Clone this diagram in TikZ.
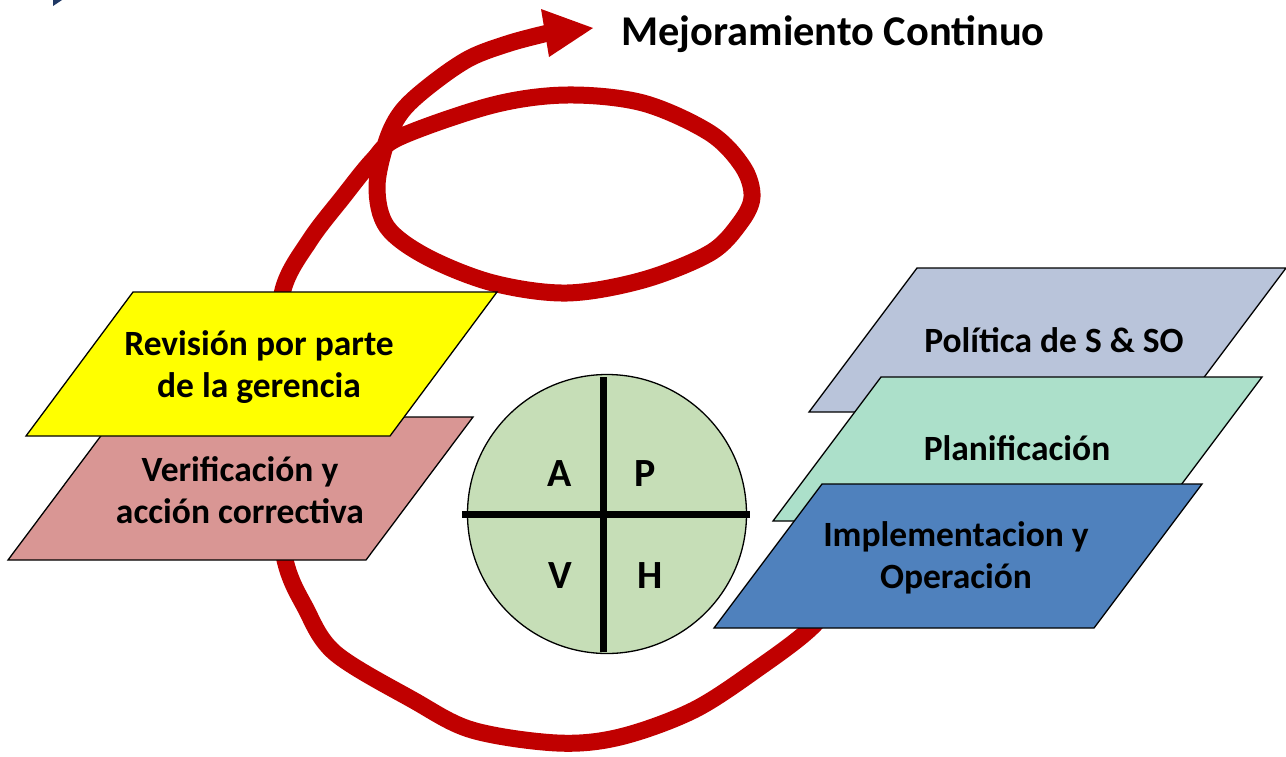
\documentclass[tikz,border=0pt]{standalone}
\usepackage{fontspec}
\setmainfont{Carlito}
\definecolor{redc}{HTML}{C00000}
\definecolor{yellowc}{HTML}{FFFF00}
\definecolor{pinkc}{HTML}{D99694}
\definecolor{grayc}{HTML}{B9C4DA}
\definecolor{greenc}{HTML}{ACE0CA}
\definecolor{bluec}{HTML}{4F81BD}
\definecolor{circc}{HTML}{C6DEB7}
\definecolor{navyc}{HTML}{1F3864}
\begin{document}
\begin{tikzpicture}[x=1pt,y=-1pt,
  box/.style={draw=black, line width=1.3pt, line join=miter},
  lbl/.style={font=\fontsize{35.5}{42}\selectfont\bfseries, align=center, inner sep=0pt},
  letter/.style={font=\fontsize{40}{48}\selectfont\bfseries, inner sep=0pt, anchor=base},
  redloop/.style={draw=redc, line width=17pt, line cap=butt, line join=round},
  crossline/.style={draw=black, line width=7pt}]
\useasboundingbox (0,0) rectangle (1286,756);
\fill[navyc] (53,0) -- (62,0) -- (53,6) -- cycle;
% red continuous-improvement path (behind the boxes)
\coordinate (rs) at (845,585);
\coordinate (re) at (548,33);
\coordinate (tip) at (593,28);
\draw[redloop] plot[smooth, tension=0.55] coordinates {(rs) (812,627) (760,667) (694,710) (620,737) (557,743) (472,730) (413,700) (335,653) (305,607) (285,560) (272,470) (276,370) (283,290) (310,240) (343,197) (373,160) (400,137) (493,105) (567,95) (643,103) (710,133) (743,167) (752,197) (740,223) (710,253) (643,280) (567,293) (493,283) (427,257) (387,227) (377,187) (387,140) (403,110) (433,83) (470,58) (510,43) (re)};
\fill[redc] (541,9) -- (tip) -- (549,57) -- cycle;
\node[font=\fontsize{42.4}{50}\selectfont\bfseries, inner sep=0pt, anchor=base] (mc) at (833,45) {Mejoramiento Continuo};
% left boxes
\draw[box, fill=pinkc] (115,417) -- (473,417) -- (366,560) -- (8,560) -- cycle;
\node[lbl] (ver) at (240,490) {Verificación y\\acción correctiva};
\draw[box, fill=yellowc] (133,292) -- (497,292) -- (390,436) -- (26,436) -- cycle;
\node[lbl] (rev) at (259,367) {Revisión por parte\\de la gerencia};
% right boxes
\draw[box, fill=grayc] (917,268) -- (1286,268) -- (1178,412) -- (809,412) -- cycle;
\node[lbl, anchor=base] (pol) at (1054,352) {Política de S \& SO};
\draw[box, fill=greenc] (881,377) -- (1262,377) -- (1154,521) -- (773,521) -- cycle;
\node[lbl, anchor=base] (pla) at (1017,460) {Planificación};
\draw[box, fill=bluec] (822,484) -- (1202,484) -- (1094,628) -- (714,628) -- cycle;
\node[lbl] (imp) at (956,558) {Implementacion y\\Operación};
% PDCA circle
\node[circle, draw=black, line width=1.3pt, fill=circc, minimum size=279pt, inner sep=0pt] (pdca) at (607,514) {};
\draw[crossline] (462,514) -- (750,514);
\draw[crossline] (603,377) -- (603,652);
\node[letter] (la) at (560,486) {A};
\node[letter] (lp) at (645,486) {P};
\node[letter] (lv) at (560,588) {V};
\node[letter] (lh) at (650,588) {H};
\end{tikzpicture}
\end{document}
